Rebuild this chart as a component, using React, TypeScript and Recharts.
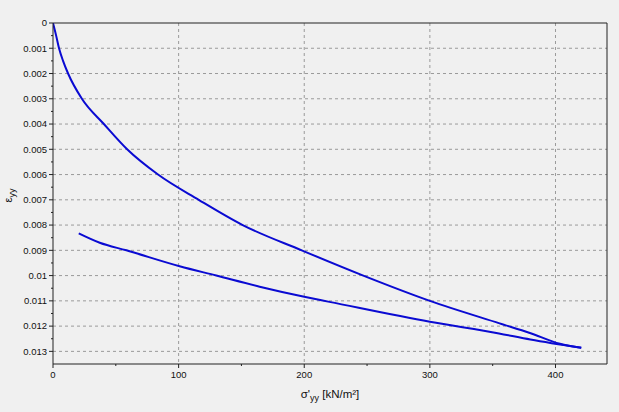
import React from "react";
import { LineChart, Line, XAxis, YAxis, CartesianGrid, ReferenceLine, Label } from "recharts";

// Loading branch: sigma'yy [kN/m²] vs eps_yy
const loadingSigma = [0, 2.5, 4.8, 8, 12, 23, 40.5, 59, 83.6, 116, 151, 198, 247, 300, 355.5, 379.6, 403.5, 420.5];
const loadingEps = [0, 0.0005, 0.001, 0.0015, 0.002, 0.003, 0.004, 0.005, 0.006, 0.007, 0.008, 0.009, 0.01, 0.011, 0.01189, 0.01227, 0.0127, 0.01286];

// Unloading branch (stored by increasing stress; drawn from 20.5 to 420.5)
const unloadingSigma = [20.5, 37.2, 58.4, 100.8, 130, 164.5, 200, 220, 300, 355, 380, 420.5];
const unloadingEps = [0.00833, 0.0087, 0.009, 0.00963, 0.01, 0.01044, 0.01084, 0.01104, 0.01183, 0.01229, 0.01253, 0.01286];

const xTicks = [0, 50, 100, 150, 200, 250, 300, 350, 400];
const xGrid = [100, 200, 300, 400];
const yTicks = [0, 0.0005, 0.001, 0.0015, 0.002, 0.0025, 0.003, 0.0035, 0.004, 0.0045, 0.005, 0.0055, 0.006, 0.0065, 0.007, 0.0075, 0.008, 0.0085, 0.009, 0.0095, 0.01, 0.0105, 0.011, 0.0115, 0.012, 0.0125, 0.013];
const yGrid = [0.001, 0.002, 0.003, 0.004, 0.005, 0.006, 0.007, 0.008, 0.009, 0.01, 0.011, 0.012, 0.013];

const X_MAX = 441;
const Y_MAX = 0.0135;

const loadingData = loadingSigma.map((x, i) => ({ x, y: loadingEps[i] }));
const unloadingData = unloadingSigma.map((x, i) => ({ x, y: unloadingEps[i] }));

const TICK_SIZE = 4;
const TICK_MARGIN = 2;
const FONT = "'Liberation Sans', Arial, sans-serif";
const AXIS_COLOR = "#222";
const LINE_COLOR = "#0a0ad2";

const XTick = (props: any) => {
  const { x, y, payload } = props;
  const v = payload.value;
  const major = Math.round(v) % 100 === 0;
  const axisY = y - TICK_SIZE - TICK_MARGIN;
  return (
    <g>
      <line x1={x} x2={x} y1={axisY} y2={axisY + (major ? 4 : 2)} stroke={AXIS_COLOR} />
      {major && (
        <text x={x} y={y + 1} dy="0.71em" textAnchor="middle" fontSize={9.5} fontFamily={FONT} fill="#111">
          {String(v)}
        </text>
      )}
    </g>
  );
};

const YTick = (props: any) => {
  const { x, y, payload } = props;
  const v = payload.value;
  const major = Math.round(v * 10000) % 10 === 0;
  const axisX = x + TICK_SIZE + TICK_MARGIN;
  return (
    <g>
      <line x1={axisX} x2={axisX - (major ? 4 : 2)} y1={y} y2={y} stroke={AXIS_COLOR} />
      {major && (
        <text x={x} y={y} dy="0.355em" textAnchor="end" fontSize={9.5} fontFamily={FONT} fill="#111">
          {String(v)}
        </text>
      )}
    </g>
  );
};

const XTitle = (props: any) => {
  const vb = props.viewBox || { x: 53, y: 364, width: 554, height: 48 };
  const cx = vb.x + vb.width / 2;
  return (
    <text x={cx} y={vb.y + 34} textAnchor="middle" fontSize={11.5} fontFamily={FONT} fill="#111">
      <tspan>σ'</tspan>
      <tspan dy={3} fontSize={9}>yy</tspan>
      <tspan dy={-3}> [kN/m²]</tspan>
    </text>
  );
};

const YTitle = (props: any) => {
  const vb = props.viewBox || { x: 0, y: 23, width: 53, height: 341 };
  const cx = 12;
  const cy = vb.y + vb.height / 2 + 2;
  return (
    <text x={cx} y={cy} textAnchor="middle" fontSize={11} fontFamily={FONT} fill="#111" transform={`rotate(-90 ${cx} ${cy})`}>
      <tspan>ε</tspan>
      <tspan dy={3} fontSize={9}>yy</tspan>
    </text>
  );
};

export default function App() {
  return (
    <div style={{ position: "absolute", left: 0, top: 0, width: 619, height: 412, background: "#f0f0f0" }}>
      <LineChart width={619} height={412} margin={{ top: 23, right: 12, left: 0, bottom: 0 }}>
        <CartesianGrid
          stroke="#9a9a9a"
          strokeDasharray="3 3"
          verticalValues={xGrid}
          horizontalValues={yGrid}
        />
        <XAxis
          type="number"
          dataKey="x"
          domain={[0, X_MAX]}
          ticks={xTicks}
          interval={0}
          height={48}
          tickSize={TICK_SIZE}
          tickMargin={TICK_MARGIN}
          tickLine={false}
          tick={<XTick />}
          stroke={AXIS_COLOR}
          allowDataOverflow
        >
          <Label content={<XTitle />} />
        </XAxis>
        <YAxis
          type="number"
          dataKey="y"
          reversed
          domain={[0, Y_MAX]}
          ticks={yTicks}
          interval={0}
          width={53}
          tickSize={TICK_SIZE}
          tickMargin={TICK_MARGIN}
          tickLine={false}
          tick={<YTick />}
          stroke={AXIS_COLOR}
          allowDataOverflow
        >
          <Label content={<YTitle />} />
        </YAxis>
        <ReferenceLine y={0} stroke={AXIS_COLOR} />
        <ReferenceLine x={X_MAX} stroke={AXIS_COLOR} />
        <Line data={loadingData} dataKey="y" type="monotone" stroke={LINE_COLOR} strokeWidth={2} dot={false} isAnimationActive={false} />
        <Line data={unloadingData} dataKey="y" type="monotone" stroke={LINE_COLOR} strokeWidth={2} dot={false} isAnimationActive={false} />
      </LineChart>
    </div>
  );
}
